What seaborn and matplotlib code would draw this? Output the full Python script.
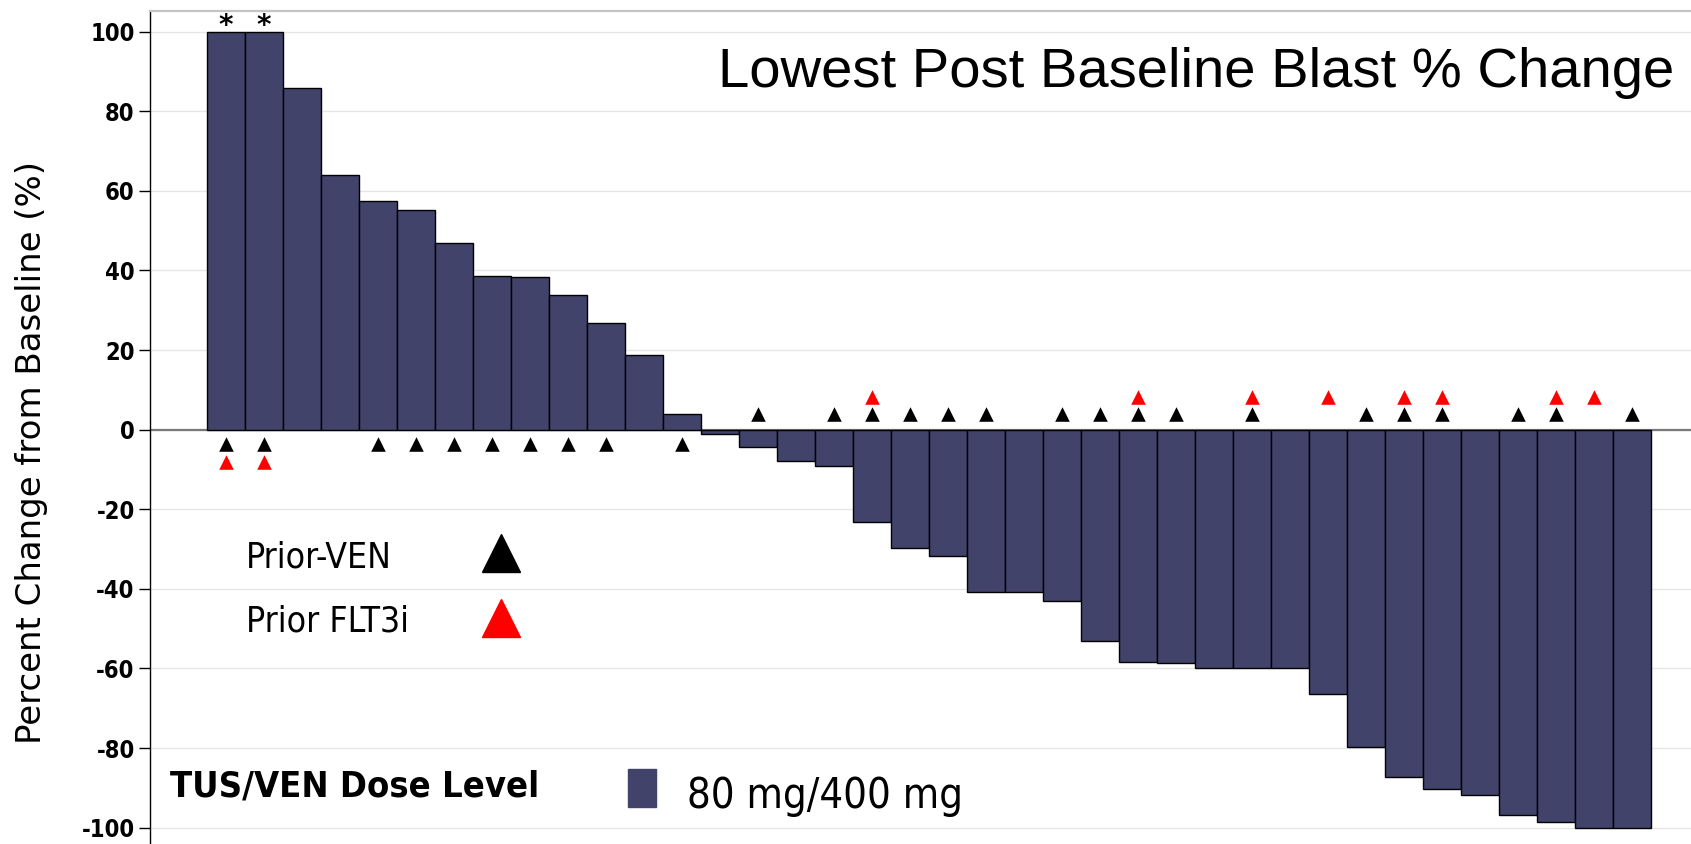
import numpy as np
import pandas as pd
import matplotlib.pyplot as plt
import matplotlib.patches as mpatches
import seaborn as sns

#%%
# values read off the waterfall (lowest post-baseline blast % change per patient)
pct_change = [100, 100, 85.8, 64.0, 57.5, 55.3, 46.9, 38.7, 38.4, 33.8, 26.7, 18.8, 4.0,
              -1.0, -4.3, -7.9, -9.2, -23.2, -29.7, -31.7, -40.8, -40.9, -43.1, -53.2,
              -58.4, -58.6, -60.0, -60.0, -60.0, -66.3, -79.7, -87.3, -90.4, -91.7,
              -96.9, -98.5, -100, -100]
prior_ven = [0, 1, 4, 5, 6, 7, 8, 9, 10, 12, 14, 16, 17, 18, 19, 20, 22, 23, 24, 25,
             27, 30, 31, 32, 34, 35, 37]
prior_flt3i = [0, 1, 17, 24, 27, 29, 31, 32, 35, 36]
starred = [0, 1]
y_ticks = [-100, -80, -60, -40, -20, 0, 20, 40, 60, 80, 100]

bar_color = '#41436a'

#%%
df = pd.DataFrame({'patient': np.arange(len(pct_change)), 'change': pct_change})

# markers go under the zero line for growing bars, over it for shrinking ones
ven = df.loc[prior_ven].copy()
ven['y'] = np.where(ven['change'] > 0, -3.7, 4.0)
flt = df.loc[prior_flt3i].copy()
flt['y'] = np.where(flt['change'] > 0, -8.0, 8.3)

#%%
sns.set_style('white')
plt.rcParams['text.color'] = 'black'
plt.rcParams['ytick.color'] = 'black'
narrow = dict(family='DejaVu Sans', stretch='condensed')

fig = plt.figure(figsize=(16.91, 8.44), dpi=100)
ax = fig.add_axes([150 / 1691, 0.0, 1 - 150 / 1691, 1 - 11 / 844])

for t in y_ticks:
    ax.axhline(t, color='#e6e6e6', lw=1, zorder=0)
ax.axhline(0, color='#7a7a7a', lw=1.6, zorder=1)

sns.barplot(data=df, x='patient', y='change', color=bar_color, width=1.0,
            edgecolor='black', linewidth=1, saturation=1, ax=ax, zorder=2)

sns.scatterplot(data=ven, x='patient', y='y', marker='^', color='black', s=110,
                linewidth=0, ax=ax, zorder=3)
sns.scatterplot(data=flt, x='patient', y='y', marker='^', color='#ff0000', s=110,
                linewidth=0, ax=ax, zorder=3)

for i in starred:
    ax.text(i, 97.8, '*', ha='center', va='bottom', fontsize=20, fontweight='bold')

ax.set_xlim(-2.0, 38.55)
ax.set_ylim(-104.1, 105.2)
ax.set_xticks([])
ax.set_xlabel('')
ax.set_ylabel('')
ax.set_yticks(y_ticks)
ax.set_yticklabels([str(t) for t in y_ticks], fontweight='bold', fontsize=17, **narrow)
ax.tick_params(axis='y', length=8, width=1, color='black', pad=3, left=True)

for s in ['right', 'bottom']:
    ax.spines[s].set_visible(False)
ax.spines['top'].set_color('#c4c4c4')
ax.spines['top'].set_linewidth(1.6)
ax.spines['left'].set_color('black')
ax.spines['left'].set_linewidth(1)

#%%
# title, axis label and the hand-made legend
fig.text(1674 / 1691, 1 - 73 / 844, 'Lowest Post Baseline Blast % Change',
         ha='right', va='center', fontsize=40.5, family='Liberation Sans')
fig.text(32 / 1691, 1 - 453 / 844, 'Percent Change from Baseline (%)',
         rotation=90, ha='center', va='center', fontsize=24.5, family='DejaVu Sans')

fig.text(246 / 1691, 1 - 558 / 844, 'Prior-VEN', ha='left', va='center',
         fontsize=25.5, **narrow)
fig.text(246 / 1691, 1 - 622 / 844, 'Prior FLT3i', ha='left', va='center',
         fontsize=25.5, **narrow)
fig.lines.append(plt.Line2D([501 / 1691], [1 - 553 / 844], marker='^', ms=27, color='black',
                            lw=0, transform=fig.transFigure))
fig.lines.append(plt.Line2D([501 / 1691], [1 - 618 / 844], marker='^', ms=27, color='#ff0000',
                            lw=0, transform=fig.transFigure))

fig.text(170 / 1691, 1 - 786 / 844, 'TUS/VEN Dose Level', ha='left', va='center',
         fontsize=26, fontweight='bold', **narrow)
fig.patches.append(mpatches.Rectangle((628 / 1691, 1 - 807 / 844), 28 / 1691, 38 / 844,
                                      color=bar_color, transform=fig.transFigure))
fig.text(687 / 1691, 1 - 796 / 844, '80 mg/400 mg', ha='left', va='center',
         fontsize=30, **narrow)

fig.savefig('out.png', dpi=100)
